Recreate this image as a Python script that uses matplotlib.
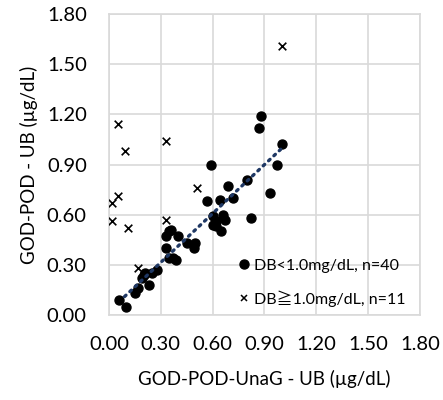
import numpy as np
import matplotlib.pyplot as plt
from matplotlib.lines import Line2D

plt.rcParams['font.family'] = ['Lato', 'Noto Sans CJK JP', 'DejaVu Sans']

# DB<1.0mg/dL (n=40)
dot_x = [0.06, 0.10, 0.15, 0.17, 0.19, 0.20, 0.21, 0.23, 0.25, 0.28,
         0.33, 0.35, 0.36, 0.40, 0.33, 0.35, 0.37, 0.39, 0.45, 0.49,
         0.50, 0.59, 0.57, 0.60, 0.60, 0.62, 0.65, 0.66, 0.67, 0.64,
         0.69, 0.72, 0.80, 0.82, 0.62, 0.93, 0.97, 1.00, 0.87, 0.88]
dot_y = [0.09, 0.05, 0.13, 0.16, 0.22, 0.24, 0.25, 0.18, 0.25, 0.27,
         0.47, 0.50, 0.51, 0.47, 0.40, 0.34, 0.34, 0.33, 0.43, 0.40,
         0.43, 0.90, 0.68, 0.59, 0.54, 0.53, 0.50, 0.60, 0.57, 0.69,
         0.77, 0.70, 0.81, 0.58, 0.56, 0.73, 0.90, 1.02, 1.12, 1.19]

# DB≧1.0mg/dL (n=11)
x_x = [0.05, 0.09, 0.33, 1.00, 0.05, 0.02, 0.02, 0.11, 0.33, 0.51, 0.17]
x_y = [1.14, 0.98, 1.04, 1.61, 0.71, 0.67, 0.56, 0.52, 0.57, 0.76, 0.28]

ticks = [0.0, 0.3, 0.6, 0.9, 1.2, 1.5, 1.8]

fig = plt.figure(figsize=(4.43, 4.0), dpi=100)
ax = fig.add_axes([0.246, 0.2125, 0.702, 0.7525])

ax.scatter(dot_x, dot_y, s=42, color='black', zorder=3)
ax.scatter(x_x, x_y, s=30, marker='x', color='black', linewidths=1.2, zorder=3)

# 선형 추세선
k, b = np.polyfit(dot_x, dot_y, 1)
tx = np.array([0.09, max(dot_x)])
ax.plot(tx, k * tx + b, linestyle=(0, (0.6, 1.6)), color='#1f3864',
        linewidth=2.4, dash_capstyle='round', zorder=4)

ax.set_xlim(0, 1.8)
ax.set_ylim(0, 1.8)
ax.set_xticks(ticks)
ax.set_yticks(ticks)
ax.set_xticklabels(['%.2f' % t for t in ticks], fontsize=14.5)
ax.set_yticklabels(['%.2f' % t for t in ticks], fontsize=14.5)
ax.tick_params(axis='x', length=0, pad=15)
ax.tick_params(axis='y', length=0, pad=16)
ax.grid(True, color='#d9d9d9', linewidth=1.2)
ax.set_axisbelow(True)
for s in ax.spines.values():
    s.set_color('#d9d9d9')
    s.set_linewidth(1.2)

ax.set_xlabel('GOD-POD-UnaG - UB (µg/dL)', fontsize=13.5, labelpad=12)
ax.set_ylabel('GOD-POD - UB (µg/dL)', fontsize=13.5, labelpad=6)

handles = [Line2D([], [], marker='o', linestyle='none', color='black', markersize=6.5),
           Line2D([], [], marker='x', linestyle='none', color='black', markersize=5,
                  markeredgewidth=1.1)]
ax.legend(handles, ['DB<1.0mg/dL, n=40', 'DB≧1.0mg/dL, n=11'], loc='lower right',
          bbox_to_anchor=(1.0, -0.02), frameon=False, fontsize=11.5,
          handletextpad=0.2, handlelength=0.9, labelspacing=1.1)

plt.savefig('out.png', dpi=100)
